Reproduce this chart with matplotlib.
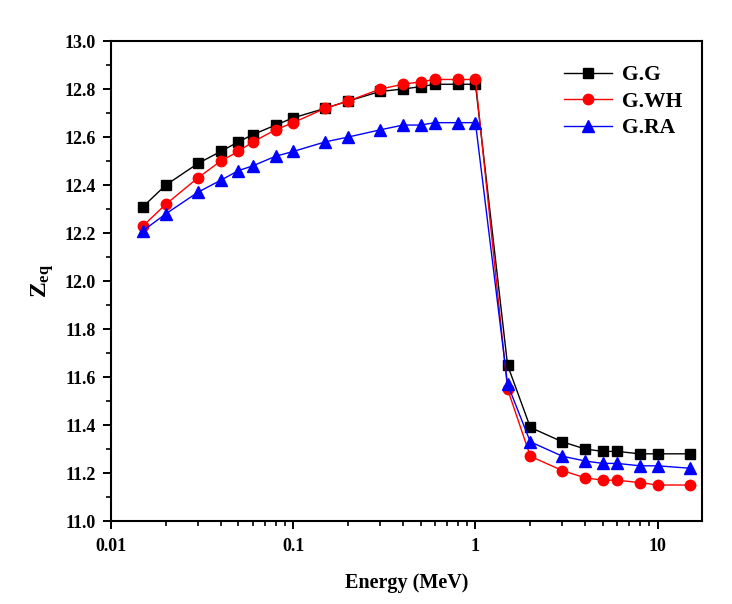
import matplotlib
matplotlib.use("Agg")
import matplotlib.pyplot as plt
from matplotlib.ticker import LogLocator, FixedLocator, MultipleLocator, FuncFormatter

energy = [0.015, 0.02, 0.03, 0.04, 0.05, 0.06, 0.08, 0.1, 0.15, 0.2, 0.3, 0.4, 0.5,
          0.6, 0.8, 1.0, 1.5, 2.0, 3.0, 4.0, 5.0, 6.0, 8.0, 10.0, 15.0]
gg = [12.31, 12.40, 12.49, 12.54, 12.58, 12.61, 12.65, 12.68, 12.72, 12.75, 12.79, 12.80, 12.81,
      12.82, 12.82, 12.82, 11.65, 11.39, 11.33, 11.30, 11.29, 11.29, 11.28, 11.28, 11.28]
gwh = [12.23, 12.32, 12.43, 12.50, 12.54, 12.58, 12.63, 12.66, 12.72, 12.75, 12.80, 12.82, 12.83,
       12.84, 12.84, 12.84, 11.55, 11.27, 11.21, 11.18, 11.17, 11.17, 11.16, 11.15, 11.15]
gra = [12.21, 12.28, 12.37, 12.42, 12.46, 12.48, 12.52, 12.54, 12.58, 12.60, 12.63, 12.65, 12.65,
       12.66, 12.66, 12.66, 11.57, 11.33, 11.27, 11.25, 11.24, 11.24, 11.23, 11.23, 11.22]
labels = ["G.G", "G.WH", "G.RA"]
xticks = [0.01, 0.1, 1, 10]
xtick_labels = ["0.01", "0.1", "1", "10"]

plt.rcParams['font.family'] = ['Liberation Serif', 'DejaVu Serif']
plt.rcParams['font.weight'] = 'bold'
plt.rcParams['mathtext.fontset'] = 'custom'
plt.rcParams['mathtext.rm'] = 'Liberation Serif:bold'
plt.rcParams['mathtext.it'] = 'Liberation Serif:bold'
plt.rcParams['mathtext.bf'] = 'Liberation Serif:bold'

fig = plt.figure(figsize=(7.32, 6.04), dpi=100)
ax = fig.add_axes([0.1516, 0.1374, 0.8074, 0.7946])

ax.plot(energy, gg, color='black', marker='s', markersize=7.5, lw=1.0, label=labels[0])
ax.plot(energy, gwh, color='red', marker='o', markersize=7.5, lw=1.0, label=labels[1])
ax.plot(energy, gra, color='blue', marker='^', markersize=9, lw=1.0, label=labels[2])

ax.set_xscale('log')
ax.set_xlim(0.01, 17.5)
ax.set_ylim(11.0, 13.0)
ax.xaxis.set_major_locator(FixedLocator(xticks))
ax.set_xticklabels(xtick_labels)
ax.xaxis.set_minor_locator(LogLocator(base=10, subs=range(2, 10)))
ax.xaxis.set_minor_formatter(FuncFormatter(lambda v, p: ""))
ax.yaxis.set_major_locator(MultipleLocator(0.2))
ax.yaxis.set_minor_locator(MultipleLocator(0.1))
ax.yaxis.set_major_formatter(FuncFormatter(lambda v, p: f"{v:.1f}"))

ax.tick_params(which='major', direction='out', length=6, width=1.4, labelsize=13)
ax.tick_params(which='minor', direction='out', length=3.5, width=1.2)
ax.tick_params(axis='x', which='major', pad=6.5)
ax.tick_params(axis='y', which='major', pad=5)
for lab in ax.get_xticklabels() + ax.get_yticklabels():
    lab.set_fontweight('bold')
for s in ax.spines.values():
    s.set_linewidth(1.5)

ax.set_xlabel("Energy (MeV)", fontsize=14.5, fontweight='bold', labelpad=13)
ax.set_ylabel(r"Z$_{\mathregular{eq}}$", fontsize=17, fontweight='bold', labelpad=6)

leg = ax.legend(loc='upper right', frameon=False, fontsize=15.5, handlelength=2.2,
                bbox_to_anchor=(1.0, 0.99), labelspacing=0.3, handletextpad=0.5)
for t in leg.get_texts():
    t.set_fontweight('bold')

fig.savefig("out.png", dpi=100)
